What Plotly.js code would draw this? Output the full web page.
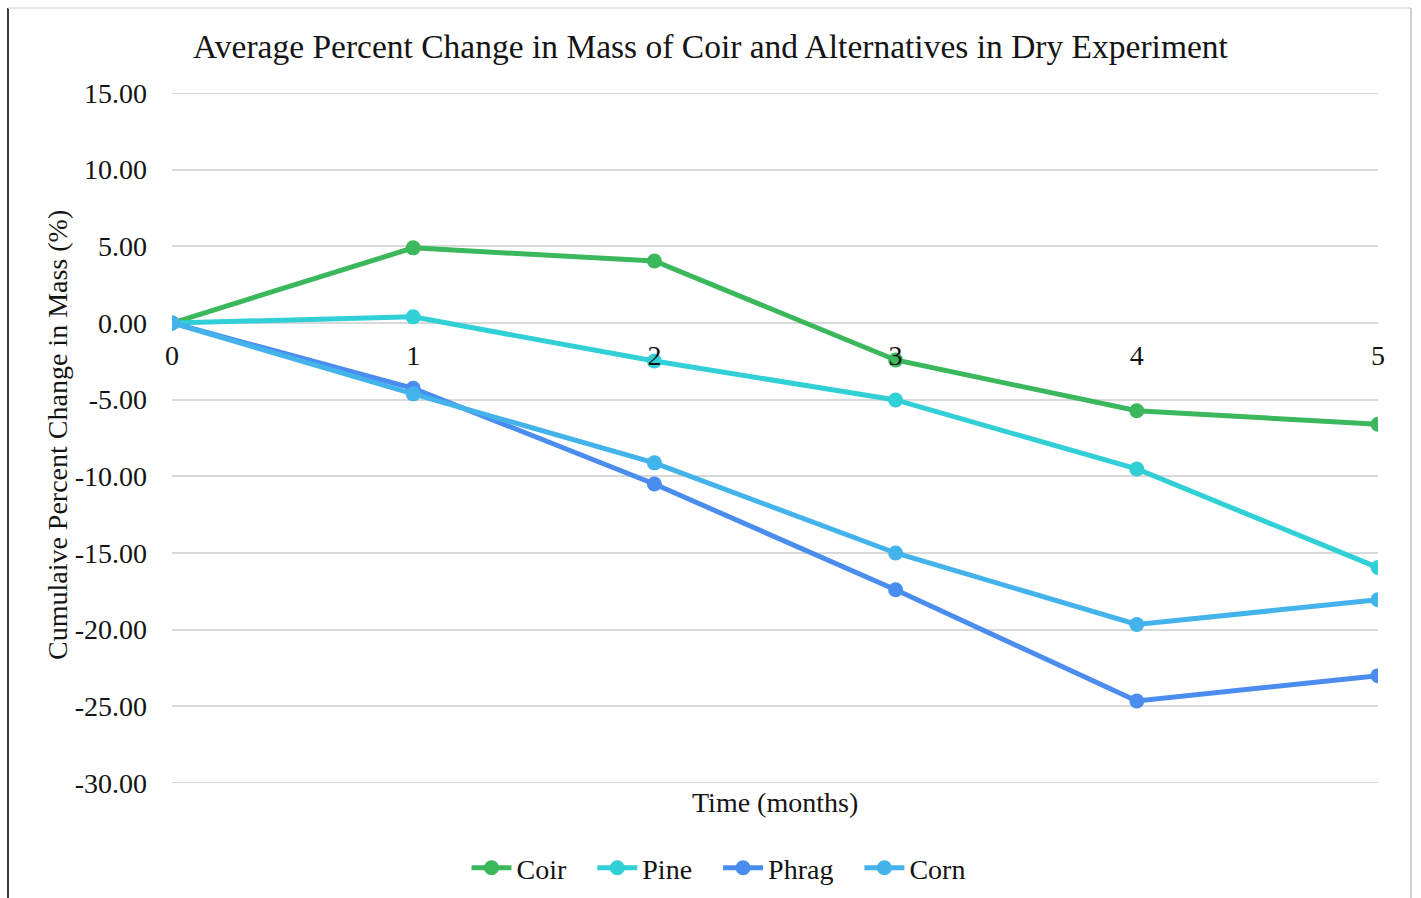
<!DOCTYPE html>
<html>
<head>
<meta charset="utf-8">
<script src="https://cdn.plot.ly/plotly-3.0.1.min.js"></script>
<style>
  html, body { margin: 0; padding: 0; background: #fff; }
  #chart { width: 1421px; height: 898px; }
</style>
</head>
<body>
<div id="chart"></div>
<script>
// Time in months since the start of the dry experiment
const months = [0, 1, 2, 3, 4, 5];

// Cumulative percent change in mass for each material
const coir  = [0, 4.90, 4.04, -2.41, -5.72, -6.60];
const pine  = [0, 0.40, -2.48, -5.02, -9.52, -15.95];
const phrag = [0, -4.26, -10.50, -17.40, -24.65, -23.00];
const corn  = [0, -4.62, -9.12, -15.00, -19.66, -18.05];

// y-axis ticks, written with a plain hyphen for negatives
const yTickVals   = [15, 10, 5, 0, -5, -10, -15, -20, -25, -30];
const yTickLabels = ['15.00', '10.00', '5.00', '0.00', '-5.00', '-10.00',
                     '-15.00', '-20.00', '-25.00', '-30.00'];

const seriesNames = ['Coir', 'Pine', 'Phrag', 'Corn'];
const seriesValues = [coir, pine, phrag, corn];
const seriesColors = ['#3bb85c', '#31cfd6', '#4a8def', '#44b3ec'];

const serif = 'Liberation Serif, Times New Roman, serif';
const ink = '#141414';
const gridColor = '#d9d9d9';
const pad = '\u00a0\u00a0\u00a0';   // extra room after each legend entry

const traces = seriesNames.map((name, i) => ({
  type: 'scatter',
  mode: 'lines+markers',
  name: name + pad,
  x: months,
  y: seriesValues[i],
  line: { color: seriesColors[i], width: 5 },
  marker: { color: seriesColors[i], size: 15 }
}));

// plot-area geometry in pixels, used to place the frame and labels in paper units
const L = 172, R = 43, T = 93, B = 115, W = 1421, H = 898;
const pw = W - L - R, ph = H - T - B;
const px = x => (x - L) / pw;
const py = y => (H - B - y) / ph;

// gridlines at the two ends of the value range
const edgeGrid = [yTickVals[0], yTickVals[yTickVals.length - 1]].map(v => ({
  type: 'line', xref: 'paper', yref: 'y', layer: 'below',
  x0: 0, x1: 1, y0: v, y1: v,
  line: { color: gridColor, width: 2 }
}));

const layout = {
  width: W,
  height: H,
  margin: { l: L, r: R, t: T, b: B, autoexpand: false },
  paper_bgcolor: '#ffffff',
  plot_bgcolor: '#ffffff',
  font: { family: serif, color: ink, size: 28 },
  title: {
    text: 'Average Percent Change in Mass of Coir and Alternatives in Dry Experiment',
    font: { family: serif, size: 33.5, color: ink },
    xref: 'container', x: 0.5, xanchor: 'center',
    yref: 'container', y: 1 - 46 / H, yanchor: 'middle'
  },
  xaxis: {
    range: [0, 5],
    tickvals: months,
    ticktext: months.map(String),
    showgrid: false,
    zeroline: false,
    showline: false,
    ticks: '',
    anchor: 'free',
    position: 30 / 45,
    layer: 'above traces',
    ticklabelstandoff: 13,
    tickfont: { family: serif, size: 28, color: ink }
  },
  yaxis: {
    range: [-30, 15],
    tickvals: yTickVals,
    ticktext: yTickLabels,
    showgrid: true,
    gridcolor: gridColor,
    gridwidth: 2,
    zeroline: true,
    zerolinecolor: gridColor,
    zerolinewidth: 2,
    showline: false,
    ticks: '',
    ticklabelstandoff: 24,
    tickfont: { family: serif, size: 28, color: ink }
  },
  legend: {
    orientation: 'h',
    x: px(729), xanchor: 'center',
    xref: 'paper',
    y: py(868), yanchor: 'middle',
    font: { family: serif, size: 28, color: ink },
    itemwidth: 40,
    tracegroupgap: 0,
    bgcolor: 'rgba(0,0,0,0)'
  },
  annotations: [
    {
      text: 'Time (months)',
      xref: 'paper', yref: 'paper',
      x: px(775), y: py(802),
      xanchor: 'center', yanchor: 'middle',
      showarrow: false,
      font: { family: serif, size: 28, color: ink }
    },
    {
      text: 'Cumulaive Percent Change in Mass (%)',
      xref: 'paper', yref: 'paper',
      x: px(57), y: py(435),
      xanchor: 'center', yanchor: 'middle',
      textangle: -90,
      showarrow: false,
      font: { family: serif, size: 28, color: ink }
    }
  ],
  shapes: edgeGrid.concat([
    // chart frame: dark left edge, light top and right edges
    { type: 'line', xref: 'paper', yref: 'paper',
      x0: px(8), x1: px(8), y0: py(8), y1: py(900),
      line: { color: '#3a3a3a', width: 2 } },
    { type: 'line', xref: 'paper', yref: 'paper',
      x0: px(8), x1: px(1411), y0: py(8), y1: py(8),
      line: { color: '#dcdcdc', width: 1.5 } },
    { type: 'line', xref: 'paper', yref: 'paper',
      x0: px(1411), x1: px(1411), y0: py(8), y1: py(900),
      line: { color: '#d0d0d0', width: 2 } }
  ]),
  showlegend: true
};

Plotly.newPlot('chart', traces, layout, { displayModeBar: false, staticPlot: true });
</script>
</body>
</html>
